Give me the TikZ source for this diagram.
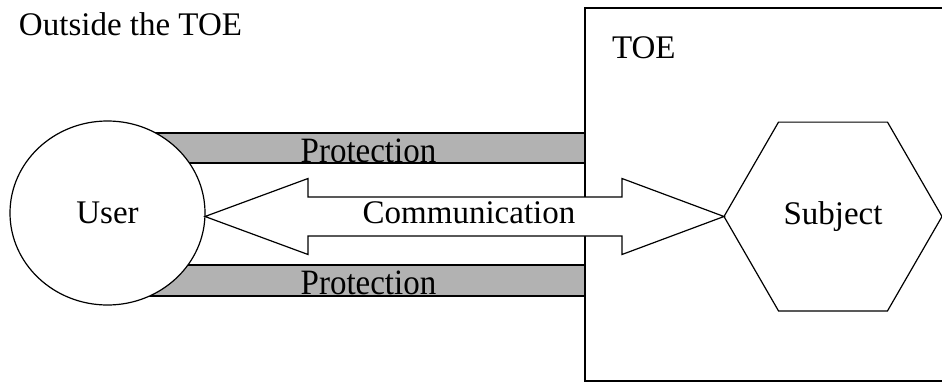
\documentclass[tikz,border=0pt]{standalone}
\usepackage{fontspec}
\setmainfont{Liberation Serif}
\usetikzlibrary{shapes.geometric,calc}
\begin{document}
\begin{tikzpicture}
      [x=1pt, y=-1pt, line width=1.2pt,
       every node/.style={font=\fontsize{33}{40}\selectfont, inner sep=0pt, outer sep=0pt},
       bar/.style={draw, fill=black!30},
       shell/.style={draw, fill=white}]
      \useasboundingbox (0,0) rectangle (942,383);
      \node[anchor=base west](out) at (19, 35) {Outside the TOE};
      \draw(585, 8) rectangle (950, 381);
      \node[anchor=base west](toe) at (612, 58) {TOE};
      \draw[bar](120, 133) rectangle (585, 163);
      \draw[bar](120, 265) rectangle (585, 296);
      \node[anchor=base, yscale=1.08](p1) at (368.5, 162) {Protection};
      \node[anchor=base, yscale=1.08](p2) at (368.5, 294) {Protection};
      \node[shell, ellipse, minimum width=195pt, minimum height=184pt](user) at (107.5, 213) {User};
      \node[shell, regular polygon, regular polygon sides=6, minimum size=218pt](subject) at (833, 216.5) {Subject};
      \coordinate(tip) at (user.east |- subject.west);
      \draw[shell](tip) -- ++(103, -38) -- ++(0, 18.5)
        -- ($(subject.west)+(-102, -19.5)$) -- ++(0, -18.5) -- (subject.west)
        -- ++(-102, 38) -- ++(0, -18.5) -- ($(tip)+(103, 19.5)$)
        -- ++(0, 18.5) -- cycle;
      \node[anchor=base](com) at (469, 223) {Communication};
  \end{tikzpicture}
\end{document}
